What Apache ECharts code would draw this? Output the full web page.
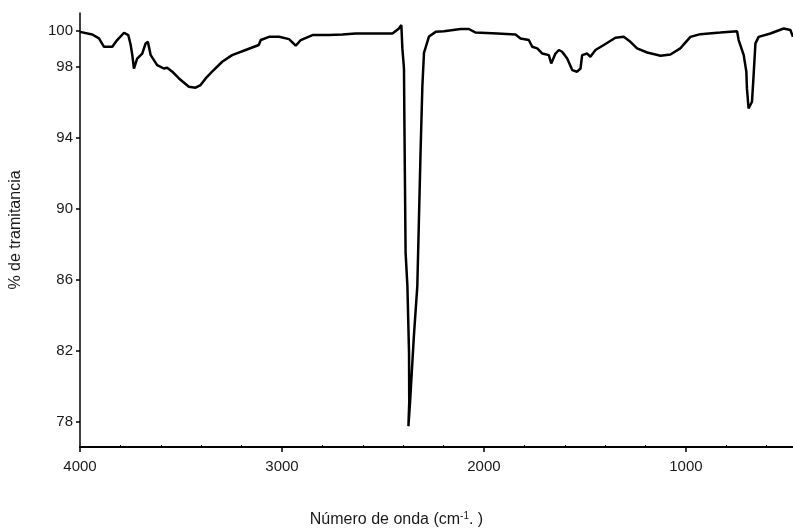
<!DOCTYPE html>
<html lang="es">
<head>
    <meta charset="UTF-8">
    <title>Espectro IR</title>
    <script src="https://cdn.jsdelivr.net/npm/echarts@6.0.0/dist/echarts.min.js"></script>
    <style>
        html, body { margin: 0; padding: 0; background: #fff; }
        #main { width: 793px; height: 532px; }
    </style>
</head>
<body>
<div id="main"></div>
<script type="text/javascript">
    // numero de onda (cm-1), de mayor a menor
    var wavenumbers = [4000, 3939, 3906, 3881, 3840, 3816, 3782, 3761, 3749, 3741, 3733, 3717, 3692, 3675, 3664, 3650,
        3618, 3585, 3568, 3543, 3510, 3461, 3428, 3403, 3378, 3346, 3296, 3247, 3180, 3115, 3105, 3064, 3014, 2965,
        2932, 2907, 2849, 2767, 2701, 2635, 2520, 2453, 2421, 2409, 2404, 2396, 2394, 2391, 2388, 2379, 2375, 2371,
        2370, 2374, 2366, 2347, 2330, 2322, 2314, 2305, 2297, 2272, 2239, 2198, 2116, 2075, 2041, 1934, 1844, 1819,
        1778, 1761, 1736, 1711, 1679, 1667, 1646, 1629, 1613, 1588, 1563, 1539, 1522, 1514, 1489, 1473, 1448, 1407,
        1349, 1308, 1275, 1242, 1192, 1126, 1077, 1028, 978, 929, 830, 747, 739, 714, 701, 698, 690, 673, 665, 656,
        640, 582, 516, 483, 470];
    // % de tramitancia
    var transmittance = [99.94, 99.79, 99.57, 99.10, 99.10, 99.48, 99.89, 99.76, 99.20, 98.63, 97.88, 98.44, 98.72, 99.29, 99.38, 98.63,
        98.07, 97.88, 97.92, 97.70, 97.32, 96.85, 96.80, 96.95, 97.32, 97.70, 98.26, 98.63, 98.92, 99.20, 99.48, 99.66, 99.66, 99.53,
        99.16, 99.48, 99.76, 99.76, 99.79, 99.85, 99.85, 99.85, 100.13, 100.32, 99.01, 97.88, 95.00, 91.25, 87.53, 85.64, 83.76, 81.91,
        79.10, 77.77, 79.10, 82.83, 85.64, 89.38, 93.15, 96.87, 98.76, 99.68, 99.94, 99.98, 100.10, 100.10, 99.90, 99.85, 99.79, 99.57,
        99.48, 99.10, 99.01, 98.72, 98.63, 98.16, 98.72, 98.92, 98.82, 98.44, 97.79, 97.70, 97.88, 98.63, 98.72, 98.54, 98.92, 99.20,
        99.61, 99.66, 99.38, 99.01, 98.78, 98.60, 98.67, 99.01, 99.66, 99.81, 99.90, 99.98, 99.48, 98.63, 97.70, 96.76, 95.63, 96.01, 97.51, 99.29,
        99.66, 99.85, 100.13, 100.04, 99.66];

    var xTickLabels = [1000, 2000, 3000, 4000];
    var xMinorTicks = [600, 800, 1200, 1400, 1600, 1800, 2200, 2400, 2600, 2800, 3200, 3400, 3600, 3800];
    var yTickLabels = [78, 82, 86, 90, 94, 98, 100];

    var points = [];
    for (var i = 0; i < wavenumbers.length; i++) {
        points.push([wavenumbers[i], transmittance[i]]);
    }

    var txt = '#1a1a1a';
    var font = 'Liberation Sans';

    var myChart = echarts.init(document.getElementById('main'));

    var option = {
        animation: false,
        backgroundColor: '#ffffff',
        title: {
            left: 'center',
            top: 506,
            text: '{a|Número de onda (cm}{s|-1}{a|. )}',
            textStyle: {
                fontWeight: 'normal',
                rich: {
                    a: { fontFamily: font, fontSize: 16, fontWeight: 'normal', color: txt },
                    s: { fontFamily: font, fontSize: 10, fontWeight: 'normal', color: txt, padding: [0, 0, 8, 0] }
                }
            }
        },
        grid: { left: 79, right: 0, top: 13, bottom: 85 },
        xAxis: [{
            type: 'value',
            min: 470,
            max: 4000,
            inverse: true,
            axisLine: { lineStyle: { color: '#000', width: 2 } },
            axisTick: { customValues: xTickLabels, length: 5, lineStyle: { color: '#000', width: 1.5 } },
            axisLabel: {
                customValues: xTickLabels, margin: 12, fontFamily: font, fontSize: 15, color: txt,
                formatter: function (v) { return String(v); }
            },
            splitLine: { show: false }
        }, {
            type: 'value',
            min: 470,
            max: 4000,
            inverse: true,
            position: 'bottom',
            axisLine: { show: false },
            axisTick: { customValues: xMinorTicks, inside: true, length: 2, lineStyle: { color: '#000', width: 1 } },
            axisLabel: { show: false },
            splitLine: { show: false }
        }],
        yAxis: {
            type: 'value',
            min: 76.6,
            max: 101,
            name: '% de tramitancia',
            nameLocation: 'middle',
            nameGap: 56,
            nameTextStyle: { fontFamily: font, fontSize: 16, color: txt },
            axisLine: { show: true, lineStyle: { color: '#000', width: 1.5 } },
            axisTick: { show: true, customValues: yTickLabels, length: 4, lineStyle: { color: '#000', width: 1.5 } },
            axisLabel: { customValues: yTickLabels, margin: 7, fontFamily: font, fontSize: 15, color: txt },
            splitLine: { show: false }
        },
        series: [{
            type: 'line',
            data: points,
            showSymbol: false,
            symbol: 'none',
            lineStyle: { color: '#000', width: 2.5 },
            clip: true
        }]
    };

    myChart.setOption(option);
</script>
</body>
</html>
